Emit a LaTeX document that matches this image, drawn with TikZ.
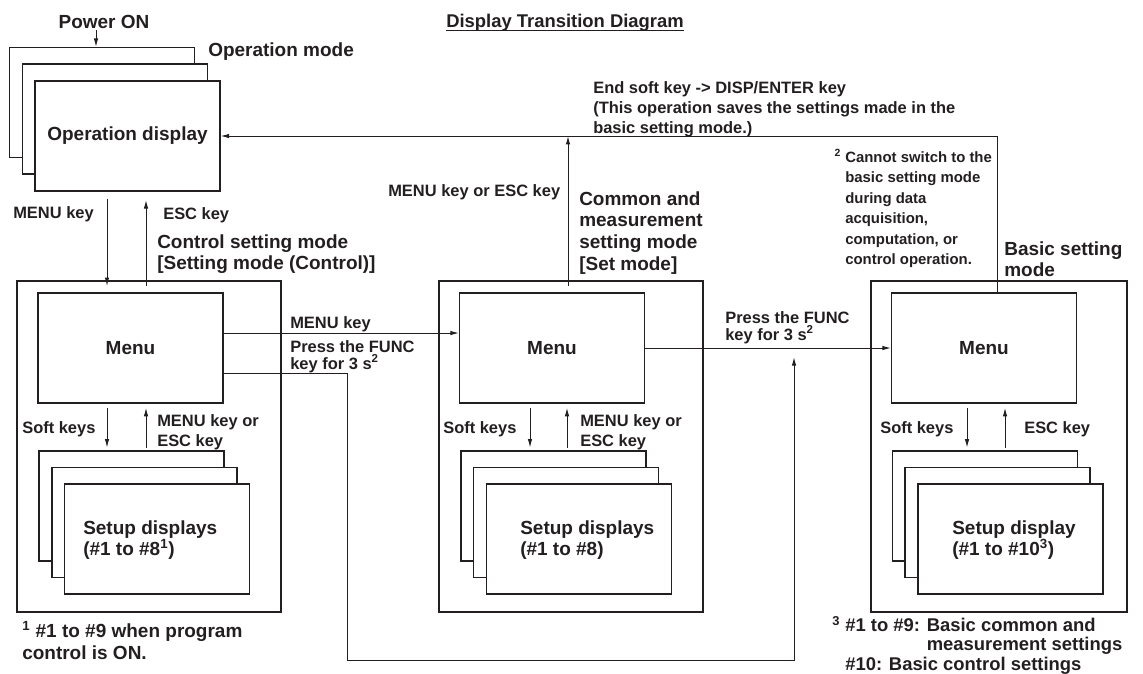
\documentclass[tikz,border=0pt]{standalone}
\usepackage{fontspec}
\setmainfont{Liberation Sans}
\usetikzlibrary{arrows.meta}
\definecolor{ink}{HTML}{231F20}
\newcommand{\boxfont}{\fontsize{13.5pt}{15.4pt}\selectfont\bfseries}
\newcommand{\keyfont}{\fontsize{11.7pt}{14.4pt}\selectfont\bfseries}
\newcommand{\tightfont}{\fontsize{11.7pt}{12pt}\selectfont\bfseries}
\newcommand{\notefont}{\fontsize{10.6pt}{14.6pt}\selectfont\bfseries}
\newcommand{\footfont}{\fontsize{13.1pt}{13.3pt}\selectfont\bfseries}
\pgfdeclarelayer{bg}
\pgfsetlayers{bg,main}
\tikzset{
    scr/.style={draw=ink, line width=0.9pt, fill=white, minimum width=4.625cm,
                minimum height=2.75cm, inner sep=0pt, font=\boxfont, text=ink},
    mode/.style={draw=ink, line width=1.4pt, inner sep=0pt, minimum height=8.275cm},
    lbl/.style={inner sep=0pt, align=left, text=ink, font=\keyfont},
    ttl/.style={inner sep=0pt, align=left, text=ink, font=\boxfont},
    arr/.style={draw=ink, line width=0.7pt, -{Latex[length=6pt,width=3.2pt]}}
}

\begin{document}
\begin{tikzpicture}[x=0.025cm, y=-0.025cm]
  \useasboundingbox (0,0) rectangle (1143,673);

  \node[ttl, anchor=base] (pwr) at (104,28) {Power ON};
  \node[ttl, anchor=base, font=\footfont] (title) at (565,27.5) {Display Transition Diagram};

  \node[scr] (op1) at (102,102.5) {};
  \node[scr] (op2) at (115,119) {};
  \node[scr] (op3) at (127.5,136) {Operation display};
  \node[ttl, anchor=base west] (opm) at (208,56) {Operation mode};

  \node[mode, minimum width=6.6cm] (ctl) at (149,446.5) {};
  \node[mode, minimum width=6.6cm] (set) at (571,446.5) {};
  \node[mode, minimum width=6.4cm] (bas) at (999,446.5) {};

  \node[scr] (m1) at (130.5,348) {Menu};
  \node[scr] (m2) at (552,348) {Menu};
  \node[scr] (m3) at (984,348) {Menu};

  \node[scr] (s1a) at (131.5,506) {};
  \node[scr] (s1b) at (144.5,522.5) {};
  \node[scr] (s1c) at (157,539) {};
  \node[ttl, anchor=west] (s1t) at (83,540) {Setup displays\\(\#1 to \#8\textsuperscript{1})};

  \node[scr] (s2a) at (553.5,506) {};
  \node[scr] (s2b) at (566,522.5) {};
  \node[scr] (s2c) at (579,539) {};
  \node[ttl, anchor=west] (s2t) at (520,540) {Setup displays\\(\#1 to \#8)};

  \node[scr] (s3a) at (985,506) {};
  \node[scr] (s3b) at (997.5,522.5) {};
  \node[scr] (s3c) at (1010.5,539) {};
  \node[ttl, anchor=west] (s3t) at (952,540) {Setup display\\(\#1 to \#10\textsuperscript{3})};

  \node[lbl, anchor=base west] (k1) at (13,218) {MENU key};
  \node[lbl, anchor=base west] (k2) at (163,219) {ESC key};
  \node[ttl, anchor=north west] (cmode) at (157,234) {Control setting mode\\{}[Setting mode (Control)]};

  \node[lbl, anchor=base west] (k3) at (290,328) {MENU key};
  \node[lbl, anchor=north west, font=\tightfont] (fn1) at (290,340) {Press the FUNC\\key for 3 s\textsuperscript{2}};

  \node[lbl, anchor=base west] (k4) at (388,196) {MENU key or ESC key};
  \node[ttl, anchor=north west] (smode) at (579,191) {Common and\\measurement\\setting mode\\{}[Set mode]};
  \node[lbl, anchor=north west] (endk) at (593,81) {End soft key -> DISP/ENTER key\\(This operation saves the settings made in the\\basic setting mode.)};

  \node[lbl, anchor=north west, font=\notefont] (note2) at (845,149)
    {\llap{\textsuperscript{2}\hspace{3pt}}Cannot switch to the\\basic setting mode\\during data\\acquisition,\\computation, or\\control operation.};
  \node[ttl, anchor=north west] (bmode) at (1004,241) {Basic setting\\mode};
  \node[lbl, anchor=north west, font=\tightfont] (fn2) at (725,311) {Press the FUNC\\key for 3 s\textsuperscript{2}};

  \node[lbl, anchor=base west] (sk1) at (22,433) {Soft keys};
  \node[lbl, anchor=north west] (mk1) at (157,414) {MENU key or\\ESC key};
  \node[lbl, anchor=base west] (sk2) at (443,433) {Soft keys};
  \node[lbl, anchor=north west] (mk2) at (580,414) {MENU key or\\ESC key};
  \node[lbl, anchor=base west] (sk3) at (880,433) {Soft keys};
  \node[lbl, anchor=base west] (ek3) at (1024,433) {ESC key};

  \node[ttl, anchor=north west] (note1) at (22,621) {\textsuperscript{1} \#1 to \#9 when program\\control is ON.};
  \node[ttl, anchor=north west, font=\footfont] (note3) at (832,616)
    {\textsuperscript{3} \#1 to \#9: Basic common and\\\phantom{\textsuperscript{3} \#1 to \#9: }measurement settings\\\phantom{\textsuperscript{3} }\#10: Basic control settings};

  \coordinate (fb) at (347,660);

  \begin{pgfonlayer}{bg}
    \draw[ink, line width=0.7pt] ([yshift=-2pt]title.base west) -- ([yshift=-2pt]title.base east);
    \draw[arr, shorten <=1pt] (96,0 |- pwr.south) -- (96,0 |- op1.north);

    \draw[arr, shorten <=5pt, shorten >=4.5pt] (107,0 |- op3.south) -- (107,0 |- m1.north);
    \draw[arr, shorten <=4.5pt, shorten >=6pt] (146,0 |- m1.north) -- (146,0 |- op3.south);

    \draw[arr] (m1.east |- 0,333) -- (m2.west |- 0,333);
    \draw[arr, shorten >=6.5pt] (m1.east |- 0,373) -| (fb) -| (794,0 |- m2.east);
    \draw[arr] (m2.east) -- (m3.west);

    \draw[arr, shorten <=4.5pt] (568,0 |- m2.north) -- (568,0 |- op3.east);
    \draw[arr] (997,0 |- m3.north) |- (op3.east);

    \draw[arr, shorten <=3pt, shorten >=2pt] (107,0 |- m1.south) -- (107,0 |- s1a.north);
    \draw[arr, shorten <=2pt, shorten >=3pt] (146,0 |- s1a.north) -- (146,0 |- m1.south);
    \draw[arr, shorten <=3pt, shorten >=2pt] (530,0 |- m2.south) -- (530,0 |- s2a.north);
    \draw[arr, shorten <=2pt, shorten >=3pt] (567,0 |- s2a.north) -- (567,0 |- m2.south);
    \draw[arr, shorten <=3pt, shorten >=2pt] (967,0 |- m3.south) -- (967,0 |- s3a.north);
    \draw[arr, shorten <=2pt, shorten >=3pt] (1005,0 |- s3a.north) -- (1005,0 |- m3.south);
  \end{pgfonlayer}
\end{tikzpicture}
\end{document}
